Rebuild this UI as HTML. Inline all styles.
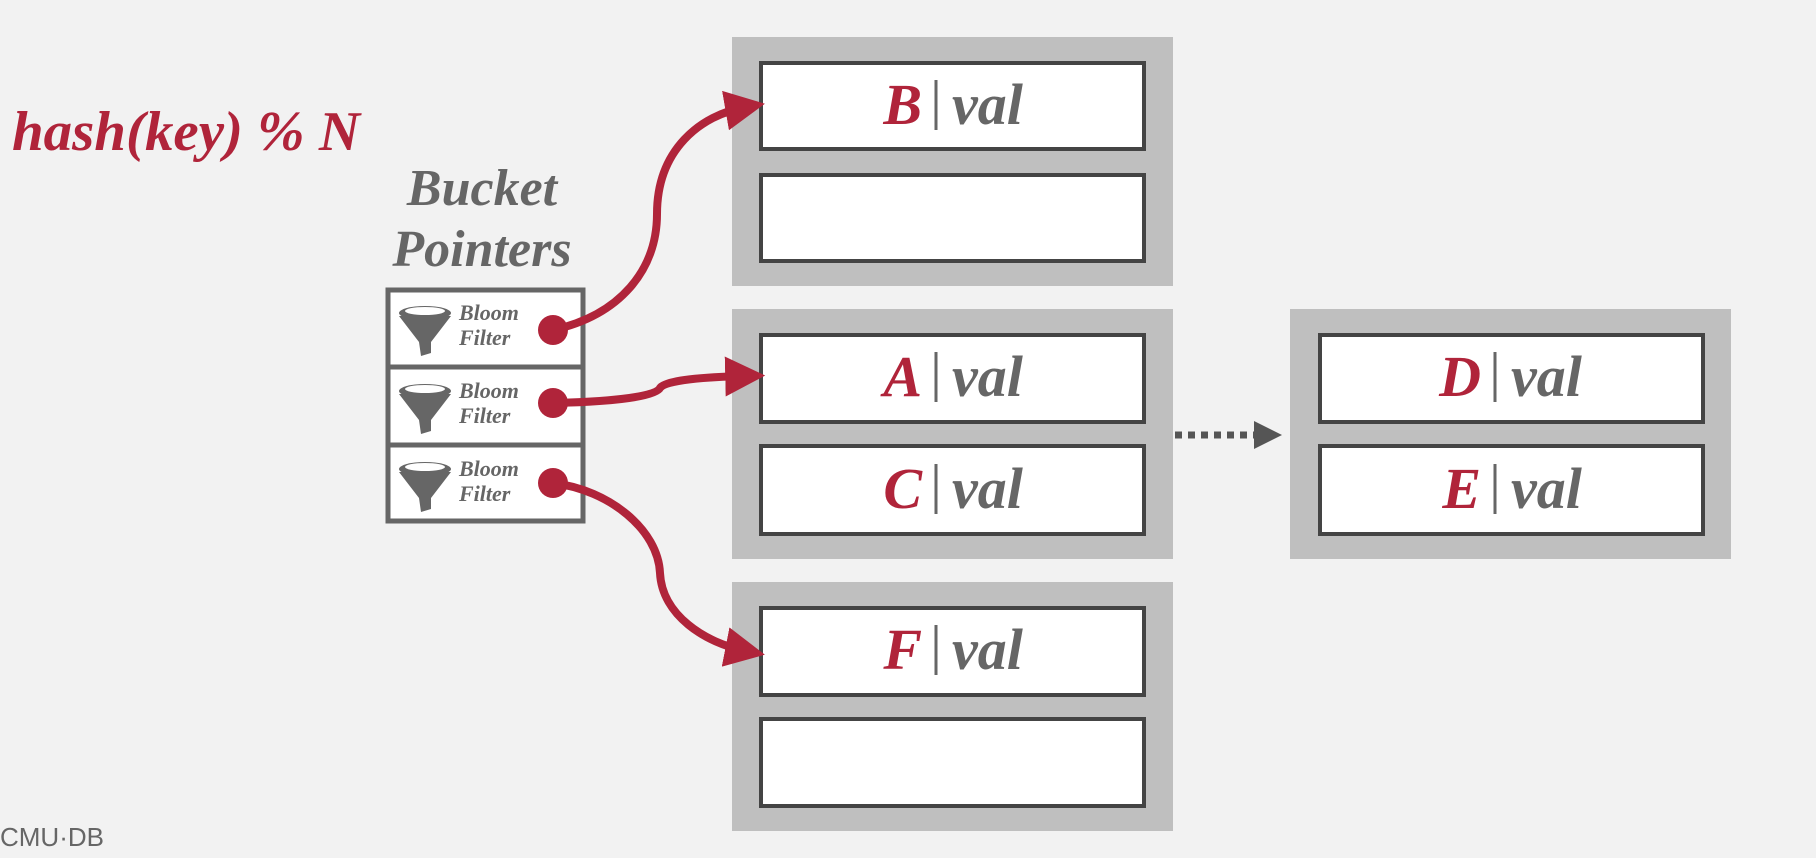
<!DOCTYPE html>
<html><head><meta charset="utf-8"><style>
html,body{margin:0;padding:0;background:#f2f2f2;width:1816px;height:858px;overflow:hidden}
svg{display:block}
.t{font-family:"Liberation Serif",serif;font-style:italic;font-weight:bold}
</style></head><body>
<svg width="1816" height="858" viewBox="0 0 1816 858">
<defs>
<marker id="ah" markerWidth="5" markerHeight="5" refX="2.6" refY="2.5" orient="auto" markerUnits="strokeWidth">
<path d="M0,0 L5,2.5 L0,5 z" fill="#b0243a"/></marker>
<marker id="ahg" markerWidth="4" markerHeight="4" refX="2" refY="2" orient="auto" markerUnits="strokeWidth">
<path d="M0,0 L4,2 L0,4 z" fill="#555"/></marker>
</defs>
<text class="t" x="12" y="150" font-size="56" textLength="348" lengthAdjust="spacingAndGlyphs" fill="#b0243a">hash(key) % N</text>
<g class="t" font-size="52" fill="#666" text-anchor="middle">
<text x="482" y="205">Bucket</text><text x="482" y="266">Pointers</text></g>

<g>
<rect x="388" y="290" width="195" height="231" fill="#fff" stroke="#666" stroke-width="5"/>
<line x1="388" y1="367" x2="583" y2="367" stroke="#666" stroke-width="5"/>
<line x1="388" y1="445" x2="583" y2="445" stroke="#666" stroke-width="5"/>
</g>
<g id="bf">
<ellipse cx="425" cy="313" rx="26" ry="7" fill="#666"/>
<ellipse cx="425" cy="311" rx="20" ry="4" fill="#fff"/>
<path d="M399,316 L451,316 L431,342 L431,353 L421,356 L419,342 Z" fill="#666"/>
<text class="t" x="459" y="320" font-size="22" fill="#666">Bloom</text>
<text class="t" x="459" y="345" font-size="22" fill="#666">Filter</text>
</g>
<use href="#bf" y="78"/>
<use href="#bf" y="156"/>

<g>
<rect x="732" y="37" width="441" height="249" fill="#bfbfbf"/>
<rect x="761" y="63" width="383" height="86" fill="#fff" stroke="#444" stroke-width="4"/>
<rect x="761" y="175" width="383" height="86" fill="#fff" stroke="#444" stroke-width="4"/>
</g>
<g>
<rect x="732" y="309" width="441" height="250" fill="#bfbfbf"/>
<rect x="761" y="335" width="383" height="87" fill="#fff" stroke="#444" stroke-width="4"/>
<rect x="761" y="446" width="383" height="88" fill="#fff" stroke="#444" stroke-width="4"/>
</g>
<g>
<rect x="732" y="582" width="441" height="249" fill="#bfbfbf"/>
<rect x="761" y="608" width="383" height="87" fill="#fff" stroke="#444" stroke-width="4"/>
<rect x="761" y="719" width="383" height="87" fill="#fff" stroke="#444" stroke-width="4"/>
</g>
<g>
<rect x="1290" y="309" width="441" height="250" fill="#bfbfbf"/>
<rect x="1320" y="335" width="383" height="87" fill="#fff" stroke="#444" stroke-width="4"/>
<rect x="1320" y="446" width="383" height="88" fill="#fff" stroke="#444" stroke-width="4"/>
</g>

<g class="t" font-size="58">
<g><text x="922" y="124" text-anchor="end" fill="#b0243a">B</text><text x="952" y="124" fill="#666">val</text><line x1="936" y1="80" x2="936" y2="130" stroke="#666" stroke-width="3"/></g>
<g><text x="922" y="396" text-anchor="end" fill="#b0243a">A</text><text x="952" y="396" fill="#666">val</text><line x1="936" y1="352" x2="936" y2="402" stroke="#666" stroke-width="3"/></g>
<g><text x="922" y="508" text-anchor="end" fill="#b0243a">C</text><text x="952" y="508" fill="#666">val</text><line x1="936" y1="464" x2="936" y2="514" stroke="#666" stroke-width="3"/></g>
<g><text x="922" y="669" text-anchor="end" fill="#b0243a">F</text><text x="952" y="669" fill="#666">val</text><line x1="936" y1="625" x2="936" y2="675" stroke="#666" stroke-width="3"/></g>
<g><text x="1481" y="396" text-anchor="end" fill="#b0243a">D</text><text x="1511" y="396" fill="#666">val</text><line x1="1495" y1="352" x2="1495" y2="402" stroke="#666" stroke-width="3"/></g>
<g><text x="1481" y="508" text-anchor="end" fill="#b0243a">E</text><text x="1511" y="508" fill="#666">val</text><line x1="1495" y1="464" x2="1495" y2="514" stroke="#666" stroke-width="3"/></g>
</g>

<line x1="1175" y1="435" x2="1268" y2="435" stroke="#555" stroke-width="7" stroke-dasharray="7,6" marker-end="url(#ahg)"/>

<g fill="none" stroke="#b0243a" stroke-width="8">
<path d="M553,330 C620,315 657,270 657,214 C657,150 700,115 746,107" marker-end="url(#ah)"/>
<path d="M553,403 C600,402 655,398 660,388 C665,380 705,377 746,376" marker-end="url(#ah)"/>
<path d="M553,483 C610,490 658,530 660,573 C662,615 705,643 746,651" marker-end="url(#ah)"/>
</g>
<g fill="#b0243a">
<circle cx="553" cy="330" r="15"/><circle cx="553" cy="403" r="15"/><circle cx="553" cy="483" r="15"/>
</g>
<text x="0" y="846" font-family="Liberation Sans,sans-serif" font-size="26" fill="#666">CMU·DB</text>
</svg>
</body></html>
